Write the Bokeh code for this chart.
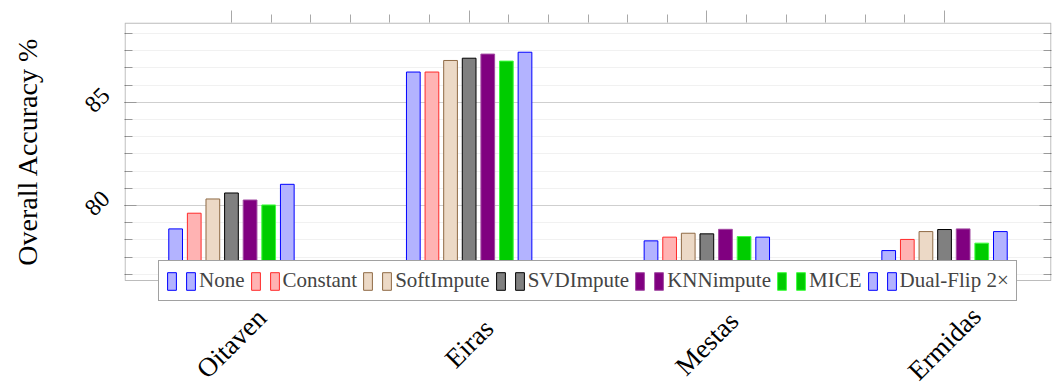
from math import pi
from bokeh.plotting import figure
from bokeh.models import (Range1d, LinearAxis, FixedTicker, SingleIntervalTicker,
                          ColumnDataSource, LabelSet, Legend, LegendItem, BoxAnnotation,
                          CustomLabelingPolicy)
from bokeh.embed import file_html
from bokeh.resources import INLINE

categories = ["Oitaven", "Eiras", "Mestas", "Ermidas"]
methods = ["None", "Constant", "SoftImpute", "SVDImpute", "KNNimpute", "MICE", "Dual-Flip 2×"]
acc_none = [78.87, 86.47, 78.29, 77.82]
acc_constant = [79.63, 86.47, 78.47, 78.36]
acc_softimpute = [80.32, 87.03, 78.66, 78.74]
acc_svdimpute = [80.61, 87.14, 78.63, 78.84]
acc_knnimpute = [80.27, 87.34, 78.85, 78.87]
acc_mice = [80.03, 87.00, 78.50, 78.18]
acc_dualflip = [81.03, 87.43, 78.47, 78.74]
series = [acc_none, acc_constant, acc_softimpute, acc_svdimpute, acc_knnimpute, acc_mice, acc_dualflip]
y_ticks = [80, 85]
y_title = "Overall Accuracy %"

fills = ["#b3b3ff", "#ffb3b3", "#ecd9c6", "#808080", "#800080", "#00cc00", "#b3b3ff"]
lines = ["#0000ff", "#ff2a2a", "#8f6a45", "#000000", "#a24aa2", "#3cff3c", "#0000ff"]

SERIF = "Liberation Serif"
n = len(methods)
bar_step = 0.0783
bar_w = 0.0577

# layout (pixels)
W, H = 1059, 385
border_left, border_right, border_top = 124, 8, 22
axis_h_px = 258           # visible axis box height
frame_w = W - border_left - border_right
frame_h = H - border_top  # frame extends to the bottom so legend / labels can overlap

x_lo, x_hi = -0.45, 3.45
y_top, y_bottom = 88.87, 76.37
ppu_y = axis_h_px / (y_top - y_bottom)
ppu_x = frame_w / (x_hi - x_lo)
y_frame_lo = y_top - frame_h / ppu_y

p = figure(width=W, height=H, x_range=Range1d(x_lo, x_hi), y_range=Range1d(y_frame_lo, y_top),
           output_backend="svg", toolbar_location=None, x_axis_location=None,
           min_border_left=border_left, min_border_right=border_right,
           min_border_top=border_top, min_border_bottom=0)
p.outline_line_color = None
p.background_fill_color = "white"
p.border_fill_color = "white"

no_labels = CustomLabelingPolicy(code="return []")

yt = SingleIntervalTicker(interval=5, num_minor_ticks=6)
yax = p.yaxis[0]
yax.ticker = yt
yax.bounds = (y_bottom, y_top)
# the axis title is centred on the whole (extended) frame; pad its start with
# non-breaking spaces so that the visible words sit centred on the axis box
yax.axis_label = "\u00a0" * 15 + y_title
yax.axis_label_text_font = SERIF
yax.axis_label_text_font_size = "28px"
yax.axis_label_text_font_style = "normal"
yax.axis_label_text_color = "black"
yax.axis_label_standoff = 13
yax.major_label_orientation = pi / 4
# a blank second line lifts the rotated number so it is centred on its tick
yax.major_label_overrides = {t: f"{t}\n\u00a0" for t in y_ticks}
yax.major_label_text_font = SERIF
yax.major_label_text_font_size = "24px"
yax.major_label_text_color = "black"
yax.major_label_standoff = 8
yax.axis_line_color = None
yax.major_tick_in = 12
yax.major_tick_out = 0
yax.minor_tick_in = 8
yax.minor_tick_out = 0
yax.major_tick_line_color = "#9a9a9a"
yax.minor_tick_line_color = "#9a9a9a"

p.ygrid.ticker = yt
p.ygrid.bounds = (y_bottom, y_top)
p.ygrid.grid_line_color = "#cfcfcf"
p.ygrid.minor_grid_line_color = "#f1f1f1"
p.xgrid.visible = False

rax = LinearAxis(ticker=yt, bounds=(y_bottom, y_top), major_label_policy=no_labels,
                 major_label_text_font_size="0px", major_label_standoff=0,
                 axis_line_color=None, major_tick_in=12, major_tick_out=0,
                 minor_tick_in=8, minor_tick_out=0,
                 major_tick_line_color="#9a9a9a", minor_tick_line_color="#9a9a9a")
p.add_layout(rax, "right")

cat_idx = list(range(len(categories)))
minor_x = [i / 6 for i in range(6 * (len(categories) - 1) + 1) if i % 6]
tax = LinearAxis(ticker=FixedTicker(ticks=cat_idx, minor_ticks=minor_x),
                 major_label_policy=no_labels,
                 major_label_text_font_size="0px", major_label_standoff=0,
                 axis_line_color=None, major_tick_in=0, major_tick_out=12,
                 minor_tick_in=0, minor_tick_out=8,
                 major_tick_line_color="#a8a8a8", minor_tick_line_color="#a8a8a8")
p.add_layout(tax, "above")

items = []
for j, vals in enumerate(series):
    xs = [i + (j - (n - 1) / 2) * bar_step for i in cat_idx]
    src = ColumnDataSource(dict(x=xs, top=vals))
    r = p.vbar(x="x", top="top", bottom=y_bottom, width=bar_w, source=src,
               fill_color=fills[j], line_color=lines[j], line_width=1)
    items.append(LegendItem(label="", renderers=[r]))
    items.append(LegendItem(label=methods[j], renderers=[r]))

# visible axis box (inset half a line so it is not clipped by the frame)
box = BoxAnnotation(left=x_lo + 0.6 / ppu_x, right=x_hi - 0.6 / ppu_x,
                    top=y_top - 0.6 / ppu_y, bottom=y_bottom,
                    fill_alpha=0, line_color="#222222", line_width=1.2)
p.add_layout(box)

legend = Legend(items=items, location=(34, 84), orientation="horizontal",
                glyph_width=11, glyph_height=22, label_standoff=3, spacing=5,
                padding=7, margin=0, label_width=0, label_height=20,
                label_text_font=SERIF, label_text_font_size="21px",
                border_line_color="#444444", border_line_width=1.3,
                background_fill_color="white", background_fill_alpha=1.0)
p.add_layout(legend, "center")

cat_src = ColumnDataSource(dict(x=cat_idx, text=categories))
cat_labels = LabelSet(x="x", y=42, y_units="screen", text="text", source=cat_src,
                      angle=pi / 4, text_align="center", text_baseline="middle",
                      text_font=SERIF, text_font_size="27px", text_color="black")
p.add_layout(cat_labels)

open("out.html", "w").write(file_html(p, INLINE))
